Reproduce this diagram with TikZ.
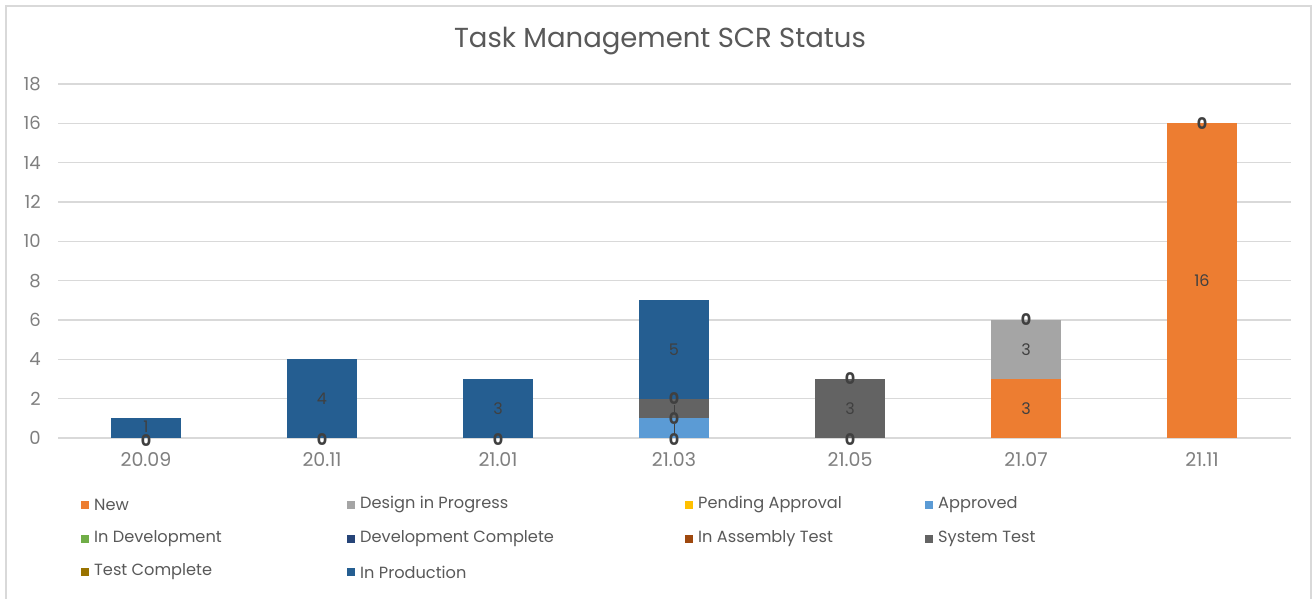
\documentclass[tikz,border=0pt]{standalone}
\usepackage{fontspec}
\setmainfont{Poppins}
\definecolor{cNew}{HTML}{ED7D31}
\definecolor{cDesign}{HTML}{A5A5A5}
\definecolor{cPending}{HTML}{FFC000}
\definecolor{cApproved}{HTML}{5B9BD5}
\definecolor{cInDev}{HTML}{70AD47}
\definecolor{cDevDone}{HTML}{264478}
\definecolor{cAssembly}{HTML}{9E480E}
\definecolor{cSysTest}{HTML}{636363}
\definecolor{cTestDone}{HTML}{997300}
\definecolor{cProd}{HTML}{255E91}
\definecolor{gridc}{HTML}{D9D9D9}
\definecolor{axtext}{HTML}{7F7F7F}
\definecolor{titletext}{HTML}{595959}
\definecolor{datatext}{HTML}{404040}
\tikzset{
  x=1pt, y=-1pt,
  gridline/.style={draw=gridc, line width=1.5pt},
  ylab/.style={anchor=east, text=axtext, font=\fontsize{18}{18}\selectfont, inner sep=0pt},
  xlab/.style={anchor=north, text=axtext, font=\fontsize{19}{19}\selectfont, inner sep=0pt},
  vlab/.style={text=datatext, font=\fontsize{16}{16}\selectfont, inner sep=0pt},
  zlab/.style={text=datatext, font=\bfseries\fontsize{16}{16}\selectfont, inner sep=0pt},
  legsq/.style={minimum size=8pt, inner sep=0pt, anchor=west},
  legtxt/.style={anchor=west, text=titletext, font=\fontsize{16.2}{16.2}\selectfont, inner sep=0pt},
}
% vertical position of a value on the axis
\newcommand{\vpos}[1]{438-19.667*(#1)}
% stacked bar segment: centre x, from value, to value, colour
\newcommand{\barseg}[4]{\fill[#4] ({#1-35},{\vpos{#2}}) rectangle ({#1+35},{\vpos{#3}});}
\begin{document}
\begin{tikzpicture}
\useasboundingbox (0,0) rectangle (1314,599);
\fill[white] (0,0) rectangle (1314,599);
\draw[draw=gridc, line width=1.5pt] (6,620) -- (6,6) -- (1311,6) -- (1311,620);

\node[text=titletext, font=\fontsize{27.5}{27.5}\selectfont, inner sep=0pt] (title) at (660,41) {Task Management SCR Status};

% grid and value axis
\foreach \v in {0,2,...,18} {
  \draw[gridline] (58,{\vpos{\v}}) -- (1291,{\vpos{\v}});
  \node[ylab] (y\v) at (41,{\vpos{\v}}) {\v};
}

% bars
\barseg{146}{0}{1}{cProd}
\barseg{322}{0}{4}{cProd}
\barseg{498}{0}{3}{cProd}
\barseg{674}{0}{1}{cApproved}
\barseg{674}{1}{2}{cSysTest}
\barseg{674}{2}{7}{cProd}
\barseg{850}{0}{3}{cSysTest}
\barseg{1026}{0}{3}{cNew}
\barseg{1026}{3}{6}{cDesign}
\barseg{1202}{0}{16}{cNew}

% data labels
\node[vlab] (l1a) at (146,{\vpos{0.55}}) {1};
\node[zlab] (l1z) at (146,{\vpos{-0.15}}) {0};
\node[vlab] (l2a) at (322,{\vpos{2}}) {4};
\node[zlab] (l2z) at (322,{\vpos{-0.1}}) {0};
\node[vlab] (l3a) at (498,{\vpos{1.5}}) {3};
\node[zlab] (l3z) at (498,{\vpos{-0.1}}) {0};
\node[vlab] (l4a) at (674,{\vpos{4.5}}) {5};
\node[zlab] (l4b) at (674,{\vpos{2}}) {0};
\node[zlab] (l4c) at (674,{\vpos{1}}) {0};
\node[zlab] (l4z) at (674,{\vpos{-0.1}}) {0};
\draw[datatext, line width=1pt] (l4b.south) -- (l4c.north) (l4c.south) -- (l4z.north);
\node[vlab] (l5a) at (850,{\vpos{1.5}}) {3};
\node[zlab] (l5b) at (850,{\vpos{3}}) {0};
\node[zlab] (l5z) at (850,{\vpos{-0.1}}) {0};
\node[vlab] (l6a) at (1026,{\vpos{1.5}}) {3};
\node[vlab] (l6b) at (1026,{\vpos{4.5}}) {3};
\node[zlab] (l6c) at (1026,{\vpos{6}}) {0};
\node[vlab] (l7a) at (1202,{\vpos{8}}) {16};
\node[zlab] (l7b) at (1202,{\vpos{16}}) {0};

% category axis
\foreach \c/\t [count=\i from 0] in {146/20.09,322/20.11,498/21.01,674/21.03,850/21.05,1026/21.07,1202/21.11} {
  \node[xlab] (x\i) at (\c,452) {\t};
}

% legend
\foreach \lx/\ly/\col/\txt [count=\k] in {
  81/505/cNew/New, 347/505/cDesign/Design in Progress, 685/505/cPending/Pending Approval, 925/505/cApproved/Approved,
  81/539/cInDev/In Development, 347/539/cDevDone/Development Complete, 685/539/cAssembly/In Assembly Test, 925/539/cSysTest/System Test,
  81/572/cTestDone/Test Complete, 347/572/cProd/In Production} {
  \node[legsq, fill=\col] (sq\k) at (\lx,\ly) {};
  \node[legtxt] (lt\k) at (\lx+13,\ly) {\txt};
}
\end{tikzpicture}
\end{document}
